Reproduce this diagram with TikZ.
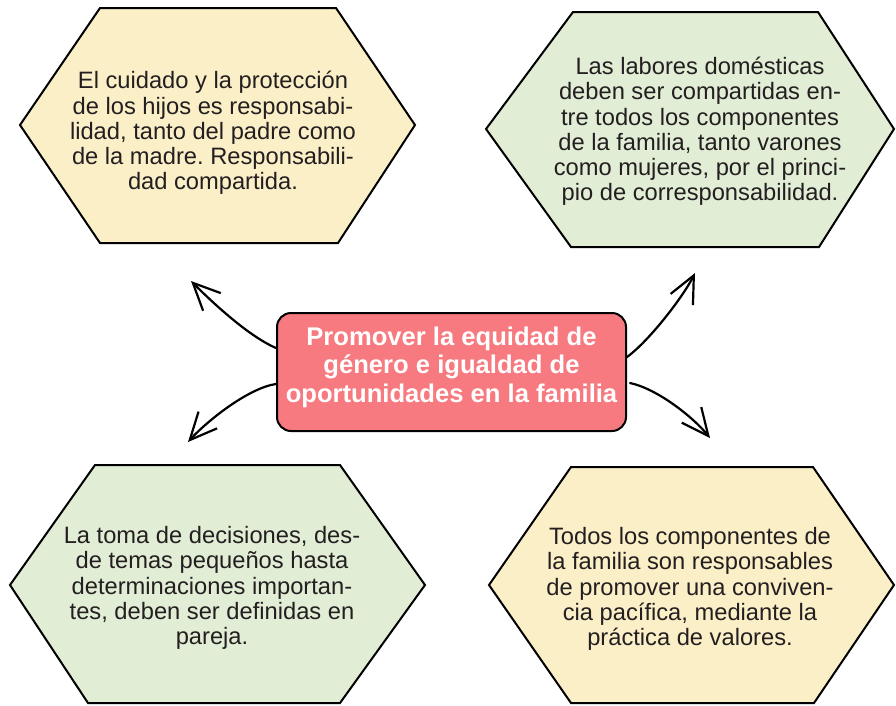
\documentclass[tikz,border=0pt]{standalone}
\usepackage{fontspec}
\setmainfont{Liberation Sans}
\frenchspacing
\usetikzlibrary{arrows.meta}
\definecolor{cream}{HTML}{FBEFC8}
\definecolor{sage}{HTML}{E1EDD5}
\definecolor{salmon}{HTML}{F77A80}
\definecolor{ink}{HTML}{231F20}
\begin{document}
\begin{tikzpicture}[x=1pt,y=-1pt,
  hexcream/.style={draw=black,line width=2pt,fill=cream,line join=miter},
  hexsage/.style={draw=black,line width=2pt,fill=sage,line join=miter},
  hextext/.style={align=center,text=ink,font=\fontsize{23.7}{25.2}\selectfont,inner sep=0pt},
  centerbox/.style={draw=black,line width=2pt,fill=salmon,rounded corners=14pt,minimum width=349pt,minimum height=118pt,align=center,text=white,font=\bfseries\fontsize{25.6}{28.5}\selectfont,inner sep=0pt},
  arr/.style={line width=2.2pt,-{Straight Barb[length=27pt,width=25pt]},line cap=round}
]
\fill[white] (0,0) rectangle (896,705);
\useasboundingbox (0,0) rectangle (896,705);

% hexagons
\draw[hexcream] (100,8) -- (336,8) -- (415,125) -- (338,243) -- (100,243) -- (20,125) -- cycle;
\draw[hexsage] (573,12) -- (818,12) -- (894,129) -- (819,247) -- (571,247) -- (486,129) -- cycle;
\draw[hexsage] (95,465) -- (340,465) -- (425,585) -- (340,703) -- (88,703) -- (10,585) -- cycle;
\draw[hexcream] (571,467) -- (813,467) -- (894,585) -- (814,703) -- (571,703) -- (489,585) -- cycle;

\node[hextext] (tl) at (213,133) {El cuidado y la protección\\de los hijos es responsabi-\\lidad, tanto del padre como\\de la madre. Responsabili-\\dad compartida.};
\node[hextext] (tr) at (700,131.5) {Las labores domésticas\\deben ser compartidas en-\\tre todos los componentes\\de la familia, tanto varones\\como mujeres, por el princi-\\pio de corresponsabilidad.};
\node[hextext] (bl) at (212,588) {La toma de decisiones, des-\\de temas pequeños hasta\\determinaciones importan-\\tes, deben ser definidas en\\pareja.};
\node[hextext] (br) at (690,589) {Todos los componentes de\\la familia son responsables\\de promover una conviven-\\cia pacífica, mediante la\\práctica de valores.};

% center
\node[centerbox] (c) at (451.5,372) {Promover la equidad de\\género e igualdad de\\oportunidades en la familia\rule[-15.2pt]{0pt}{1pt}};

% arrow tips
\coordinate (ul) at (191,281);
\coordinate (ll) at (188,442);
\coordinate (ur) at (695,273);
\coordinate (lr) at (710,438);

\draw[arr] ([yshift=24pt]c.west) .. controls +(-30,-13) and +(16,16) .. (ul);
\draw[arr] ([yshift=-12pt]c.west) .. controls +(-28,4) and +(18,-20) .. (ll);
\draw[arr] ([yshift=15pt]c.east) .. controls +(22,-16) and +(-12,24) .. (ur);
\draw[arr] ([yshift=-11pt,xshift=3pt]c.east) .. controls +(28,6) and +(-16,-20) .. (lr);
\end{tikzpicture}
\end{document}
